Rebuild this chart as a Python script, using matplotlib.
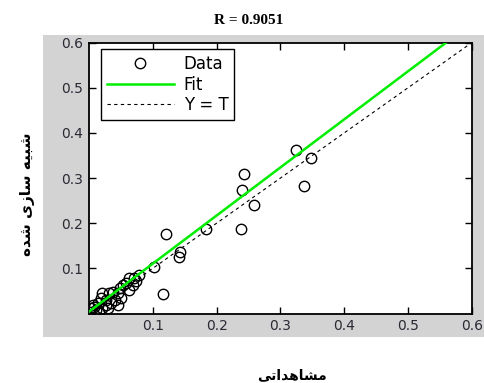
import matplotlib
matplotlib.use("Agg")
import matplotlib.pyplot as plt
from matplotlib.patches import Rectangle
import numpy as np

# ---- data ----
targets = [0.325, 0.347, 0.243, 0.240, 0.337, 0.258, 0.183, 0.238, 0.121, 0.143,
           0.141, 0.102, 0.116, 0.079, 0.071, 0.063, 0.074, 0.058, 0.053, 0.069,
           0.048, 0.063, 0.037, 0.021, 0.032, 0.045, 0.050, 0.040, 0.045, 0.027,
           0.019, 0.014, 0.006, 0.003, 0.011, 0.021, 0.029, 0.016, 0.001, 0.008,
           0.027, 0.035]
outputs = [0.363, 0.345, 0.309, 0.273, 0.282, 0.241, 0.188, 0.187, 0.176, 0.137,
           0.124, 0.102, 0.043, 0.086, 0.078, 0.078, 0.071, 0.067, 0.063, 0.063,
           0.056, 0.052, 0.048, 0.045, 0.045, 0.045, 0.034, 0.030, 0.019, 0.030,
           0.034, 0.023, 0.019, 0.012, 0.008, 0.012, 0.012, 0.004, 0.004, 0.015,
           0.019, 0.023]
fit_slope = 1.065
fit_intercept = 0.004
r_value = "0.9051"
x_ticks = [0.1, 0.2, 0.3, 0.4, 0.5, 0.6]
y_ticks = [0.1, 0.2, 0.3, 0.4, 0.5, 0.6]
legend_labels = ["Data", "Fit", "Y = T"]
# Persian labels (pre-shaped presentation forms, visual order)
xlabel_text = "\uFEF0\uFE97\uFE8D\uFEAA\uFEEB\uFE8E\uFEB8\uFEE3"          # مشاهداتی
ylabel_text = "\uFEE9\uFEAA\uFEB7 \uFEEF\uFEAF\uFE8E\uFEB3 \uFEEA\uFEF4\uFE92\uFEB7"  # شبیه سازی شده

W, H = 485, 383
fig = plt.figure(figsize=(W / 100, H / 100), dpi=100)
fig.patch.set_facecolor("white")

# gray panel behind the axes
fig.patches.append(Rectangle((43 / W, 1 - 337 / H), (W - 43) / W, (337 - 35) / H,
                             transform=fig.transFigure, facecolor="#d3d3d3",
                             edgecolor="none", zorder=-10))

ax = fig.add_axes([89 / W, 1 - 313.5 / H, (472 - 89) / W, (313.5 - 42.5) / H])
ax.set_zorder(1)
ax.set_facecolor("white")
ax.set_xlim(0, 0.6)
ax.set_ylim(0, 0.6)

xx = np.array([0, 0.6])
ax.plot(targets, outputs, linestyle="none", marker="o", markersize=7.5,
        markerfacecolor="none", markeredgecolor="black", markeredgewidth=1.0,
        label=legend_labels[0], zorder=3)
ax.plot(xx, fit_slope * xx + fit_intercept, color="#00ee00", linewidth=1.8,
        label=legend_labels[1], zorder=4)
ax.plot(xx, xx, color="black", linewidth=0.8, linestyle=(0, (3, 3)),
        label=legend_labels[2], zorder=2)

ax.set_xticks(x_ticks)
ax.set_yticks(y_ticks)
ax.set_xticklabels([f"{t:.1f}" for t in x_ticks])
ax.set_yticklabels([f"{t:.1f}" for t in y_ticks])
ax.tick_params(direction="in", length=5, width=1, top=True, right=True,
               labelsize=10, labelcolor="#2a2a35", pad=4)
for lab in ax.get_xticklabels() + ax.get_yticklabels():
    lab.set_family("DejaVu Sans")
for s in ax.spines.values():
    s.set_linewidth(1.3)

leg = ax.legend(loc="upper left", bbox_to_anchor=(0.032, 0.975), frameon=True,
                fancybox=False, framealpha=1, edgecolor="black",
                prop={"family": "DejaVu Sans", "size": 12},
                handlelength=4.0, handletextpad=0.6, borderpad=0.35,
                labelspacing=0.15, borderaxespad=0)
leg.get_frame().set_linewidth(1.0)

fig.text(249 / W, 1 - 20 / H, "R = " + r_value, ha="center", va="center",
         family="Liberation Serif", fontweight="bold", fontsize=11)
fig.text(292 / W, 1 - 375 / H, xlabel_text, ha="center", va="center",
         family=["DejaVu Sans"], fontweight="bold", fontsize=10)
fig.text(28 / W, 1 - 194 / H, ylabel_text, ha="center", va="center",
         rotation=90, family=["DejaVu Sans"], fontweight="bold", fontsize=11)

fig.savefig("out.png", dpi=100)
